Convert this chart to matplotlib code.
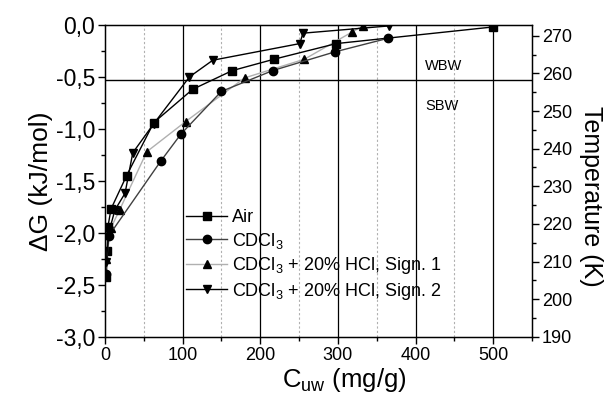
import matplotlib
matplotlib.use("Agg")
import matplotlib.pyplot as plt
from matplotlib.ticker import MultipleLocator, FuncFormatter

plt.rcParams["font.family"] = ["Liberation Sans", "DejaVu Sans"]
plt.rcParams["mathtext.fontset"] = "custom"
plt.rcParams["mathtext.rm"] = "Liberation Sans"
plt.rcParams["mathtext.it"] = "Liberation Sans"

# water content (mg/g) vs. Gibbs free energy (kJ/mol)
air_x = [2, 3, 4, 8, 28, 63, 113, 164, 218, 298, 500]
air_y = [-2.42, -2.17, -1.94, -1.77, -1.45, -0.94, -0.62, -0.44, -0.33, -0.18, -0.02]

cdcl3_x = [1, 5, 72, 98, 150, 216, 296, 364]
cdcl3_y = [-2.40, -2.03, -1.31, -1.05, -0.64, -0.44, -0.26, -0.13]

sign1_x = [2, 8, 19, 54, 104, 180, 257, 318, 332]
sign1_y = [-2.25, -1.95, -1.78, -1.22, -0.93, -0.51, -0.33, -0.07, -0.01]

sign2_x = [2, 5, 13, 26, 36, 63, 109, 139, 251, 255, 366]
sign2_y = [-2.28, -2.00, -1.78, -1.62, -1.23, -0.95, -0.50, -0.34, -0.18, -0.08, -0.01]

boundary_dg = -0.53

fig = plt.figure(figsize=(6.13, 4.01), dpi=100)
ax = fig.add_axes([0.171, 0.160, 0.697, 0.778])

# vertical grid: solid majors, dotted minors
for gx in [100, 200, 300, 400, 500]:
    ax.axvline(gx, color="black", lw=0.9, zorder=1)
for gx in [50, 150, 250, 350, 450]:
    ax.axvline(gx, color="#b0b0b0", lw=0.8, ls=(0, (2, 2)), zorder=1)

ax.axhline(boundary_dg, color="black", lw=1.0, zorder=2)

ms = 6
ax.plot(air_x, air_y, "-s", color="black", lw=1.0, ms=ms, label="Air", zorder=4)
ax.plot(cdcl3_x, cdcl3_y, "-o", color="#404040", mfc="black", mec="black", lw=1.0, ms=ms,
        label="CDCl$_3$", zorder=4)
ax.plot(sign1_x, sign1_y, "-^", color="#b0b0b0", mfc="black", mec="black", lw=1.0, ms=ms,
        label="CDCl$_3$ + 20% HCl, Sign. 1", zorder=3)
ax.plot(sign2_x, sign2_y, "-v", color="black", lw=1.0, ms=ms,
        label="CDCl$_3$ + 20% HCl, Sign. 2", zorder=4)

ax.text(412, -0.40, "WBW", fontsize=10.5, va="center")
ax.text(412, -0.78, "SBW", fontsize=10.5, va="center")

ax.set_xlim(0, 550)
ax.set_ylim(-3.0, 0.0)
ax.xaxis.set_major_locator(MultipleLocator(100))
ax.xaxis.set_minor_locator(MultipleLocator(50))
ax.yaxis.set_major_locator(MultipleLocator(0.5))
ax.yaxis.set_minor_locator(MultipleLocator(0.25))
ax.yaxis.set_major_formatter(FuncFormatter(lambda v, p: f"{v:.1f}".replace(".", ",").replace("−", "-")))

ax.tick_params(axis="x", which="major", direction="out", length=5, width=1, labelsize=13, pad=2)
ax.tick_params(axis="x", which="minor", direction="out", length=3, width=1)
ax.tick_params(axis="y", which="major", direction="out", length=5, width=1, labelsize=16.5, pad=2)
ax.tick_params(axis="y", which="minor", direction="out", length=3, width=1)
for s in ax.spines.values():
    s.set_linewidth(1.0)

ax.set_xlabel("C$_{\\mathrm{uw}}$ (mg/g)", fontsize=18.5, labelpad=0)
ax.xaxis.set_label_coords(0.56, -0.095, transform=ax.transAxes)
ax.xaxis.label.set_va("top")
ax.set_ylabel("ΔG (kJ/mol)", fontsize=19, labelpad=2)

ax2 = ax.twinx()
ax2.set_ylim(190, 272.9)
ax2.yaxis.set_major_locator(MultipleLocator(10))
ax2.yaxis.set_minor_locator(MultipleLocator(5))
ax2.tick_params(axis="y", which="major", direction="out", length=5, width=1, labelsize=13, pad=2)
ax2.tick_params(axis="y", which="minor", direction="out", length=3, width=1)
ax2.set_ylabel("Temperature (K)", fontsize=18, rotation=270, labelpad=24)
ax2.yaxis.set_label_coords(1.165, 0.45, transform=ax.transAxes)

leg = ax.legend(loc="upper left", bbox_to_anchor=(0.16, 0.45), frameon=False, fontsize=13,
                handlelength=2.3, handletextpad=0.25, labelspacing=0.25, borderpad=0.2)

fig.savefig("out.png", dpi=100)
